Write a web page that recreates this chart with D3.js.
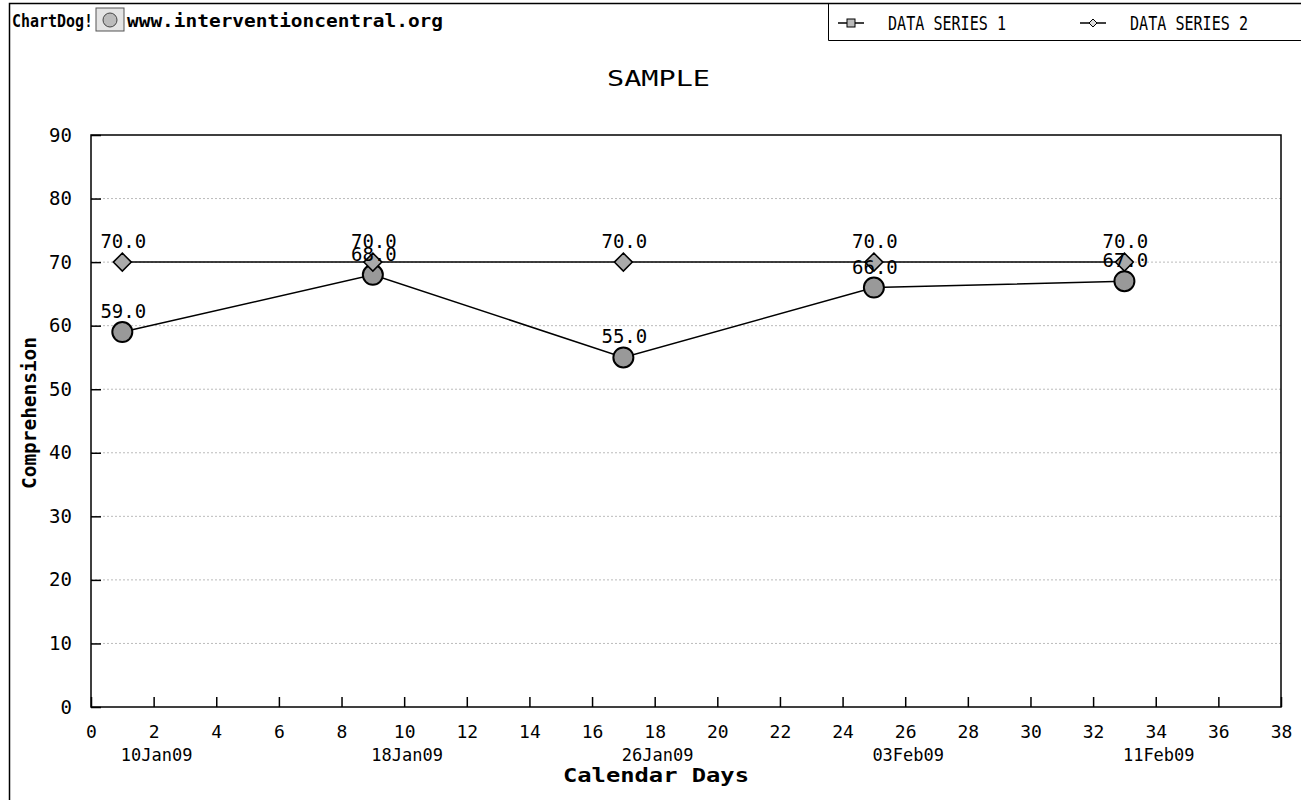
<!DOCTYPE html>
<html>
<head>
<meta charset="utf-8">
<script src="https://cdn.jsdelivr.net/npm/d3@7"></script>
<style>
  body { margin: 0; background: #fff; }
  svg text { font-family: "DejaVu Sans Mono", monospace; fill: #000; }
</style>
</head>
<body>
<div id="chart"></div>
<script>
// day index of each observation and its values
const days = [1, 9, 17, 25, 33];
const series1 = [59, 68, 55, 66, 67];
const series2 = [70, 70, 70, 70, 70];
const seriesNames = ["DATA SERIES 1", "DATA SERIES 2"];
const dateLabels = ["10Jan09", "18Jan09", "26Jan09", "03Feb09", "11Feb09"];
const dateLabelDays = [2, 10, 18, 26, 34];
const xTicks = d3.range(0, 39, 2);
const yTicks = d3.range(0, 91, 10);

const W = 1301, H = 800;
const margin = {top: 135, right: 20, bottom: 93, left: 91};

const svg = d3.select("#chart").append("svg")
    .attr("width", W)
    .attr("height", H);

const x = d3.scaleLinear().domain([0, 38]).range([margin.left, W - margin.right]);
const y = d3.scaleLinear().domain([0, 90]).range([H - margin.bottom, margin.top]);

// stretch a text to a given width
function fit(sel, len) {
  return sel.attr("textLength", len).attr("lengthAdjust", "spacingAndGlyphs");
}

// outer frame
svg.append("path")
    .attr("d", `M9.5,${H} V3.5 H${W}`)
    .attr("fill", "none")
    .attr("stroke", "#000")
    .attr("stroke-width", 1.5);

// header: ChartDog logo
fit(svg.append("text")
    .attr("x", 12).attr("y", 27)
    .attr("font-family", "DejaVu Sans")
    .attr("font-weight", "bold")
    .attr("font-size", 18)
    .text("ChartDog!"), 81);
const icon = svg.append("g").attr("transform", "translate(96,8)");
icon.append("rect").attr("width", 28).attr("height", 23)
    .attr("fill", "#e4e4e4").attr("stroke", "#555");
icon.append("circle").attr("cx", 14).attr("cy", 12).attr("r", 7)
    .attr("fill", "#bbb").attr("stroke", "#444");
fit(svg.append("text")
    .attr("x", 127).attr("y", 27)
    .attr("font-family", "DejaVu Sans")
    .attr("font-weight", "bold")
    .attr("font-size", 18)
    .text("www.interventioncentral.org"), 316);

// legend box
svg.append("path")
    .attr("d", `M828.5,3 V40.5 H${W}`)
    .attr("fill", "none")
    .attr("stroke", "#000");

const legendX = [838, 1080];
[0, 1].forEach(i => {
  const g = svg.append("g").attr("transform", `translate(${legendX[i]},30)`);
  g.append("line").attr("x1", 0).attr("x2", 26).attr("y1", -7).attr("y2", -7)
      .attr("stroke", "#000").attr("stroke-width", 1.5);
  if (i === 0) {
    g.append("rect").attr("x", 9).attr("y", -11).attr("width", 8).attr("height", 8)
        .attr("fill", "#bbb").attr("stroke", "#000");
  } else {
    g.append("path").attr("d", "M13,-11 L17,-7 L13,-3 L9,-7 Z")
        .attr("fill", "#ddd").attr("stroke", "#000");
  }
  fit(g.append("text")
      .attr("x", 50).attr("y", 0)
      .attr("font-size", 19)
      .text(seriesNames[i]), 118);
});

// title
fit(svg.append("text")
    .attr("x", 607).attr("y", 86)
    .attr("font-size", 22)
    .text("SAMPLE"), 103);

// grid lines
svg.append("g")
  .selectAll("line")
  .data(yTicks.filter(d => d > 0 && d < 90))
  .join("line")
    .attr("x1", x(0)).attr("x2", x(38))
    .attr("y1", d => y(d)).attr("y2", d => y(d))
    .attr("stroke", "#bbb")
    .attr("stroke-dasharray", "2,2");

// plot frame
svg.append("rect")
    .attr("x", x(0)).attr("y", y(90))
    .attr("width", x(38) - x(0)).attr("height", y(0) - y(90))
    .attr("fill", "none")
    .attr("stroke", "#000")
    .attr("stroke-width", 1.5);

// y axis
const yAxis = svg.append("g")
    .attr("transform", `translate(${x(0)},0)`)
    .call(d3.axisRight(y).tickValues(yTicks).tickSize(10).tickFormat(d3.format("d")));
yAxis.select(".domain").remove();
yAxis.selectAll(".tick line").attr("stroke-width", 1.5);
yAxis.selectAll(".tick text")
    .attr("x", -19)
    .attr("text-anchor", "end")
    .attr("font-size", 19)
    .attr("font-family", "DejaVu Sans Mono");

// x axis
const xAxis = svg.append("g")
    .attr("transform", `translate(0,${y(0)})`)
    .call(d3.axisTop(x).tickValues(xTicks).tickSize(10).tickFormat(d3.format("d")));
xAxis.select(".domain").remove();
xAxis.selectAll(".tick line").attr("stroke-width", 1.5);
xAxis.selectAll(".tick text")
    .attr("y", 31)
    .attr("dy", 0)
    .attr("font-size", 18)
    .attr("font-family", "DejaVu Sans Mono");

// date labels under the ticks
svg.append("g")
  .selectAll("text")
  .data(dateLabels)
  .join("text")
    .attr("x", (d, i) => x(dateLabelDays[i]) + 3)
    .attr("y", y(0) + 54)
    .attr("text-anchor", "middle")
    .attr("font-size", 17)
    .text(d => d);

// axis titles
fit(svg.append("text")
    .attr("transform", `translate(36,${(y(0) + y(90)) / 2 - 8}) rotate(-90)`)
    .attr("text-anchor", "middle")
    .attr("font-weight", "bold")
    .attr("font-size", 19)
    .text("Comprehension"), 152);
fit(svg.append("text")
    .attr("x", 563).attr("y", 782)
    .attr("font-weight", "bold")
    .attr("font-size", 19)
    .text("Calendar Days"), 186);

const line = d3.line().x(d => x(d[0])).y(d => y(d[1]));
const pts1 = days.map((d, i) => [d, series1[i]]);
const pts2 = days.map((d, i) => [d, series2[i]]);

// series lines
[pts2, pts1].forEach(pts => {
  svg.append("path")
      .datum(pts)
      .attr("d", line)
      .attr("fill", "none")
      .attr("stroke", "#000")
      .attr("stroke-width", 1.5);
});

// series 1 markers (circles)
svg.append("g")
  .selectAll("circle")
  .data(pts1)
  .join("circle")
    .attr("cx", d => x(d[0])).attr("cy", d => y(d[1]))
    .attr("r", 10)
    .attr("fill", "#999")
    .attr("stroke", "#000")
    .attr("stroke-width", 2);

// series 2 markers (diamonds)
svg.append("g")
  .selectAll("path")
  .data(pts2)
  .join("path")
    .attr("transform", d => `translate(${x(d[0])},${y(d[1])})`)
    .attr("d", "M0,-9 L9,0 L0,9 L-9,0 Z")
    .attr("fill", "#aaa")
    .attr("stroke", "#000")
    .attr("stroke-width", 1.5);

// value labels
[pts1, pts2].forEach(pts => {
  svg.append("g")
    .selectAll("text")
    .data(pts)
    .join("text")
      .attr("x", d => x(d[0]) + 1)
      .attr("y", d => y(d[1]) - 14)
      .attr("text-anchor", "middle")
      .attr("font-size", 19)
      .text(d => d3.format(".1f")(d[1]));
});
</script>
</body>
</html>
